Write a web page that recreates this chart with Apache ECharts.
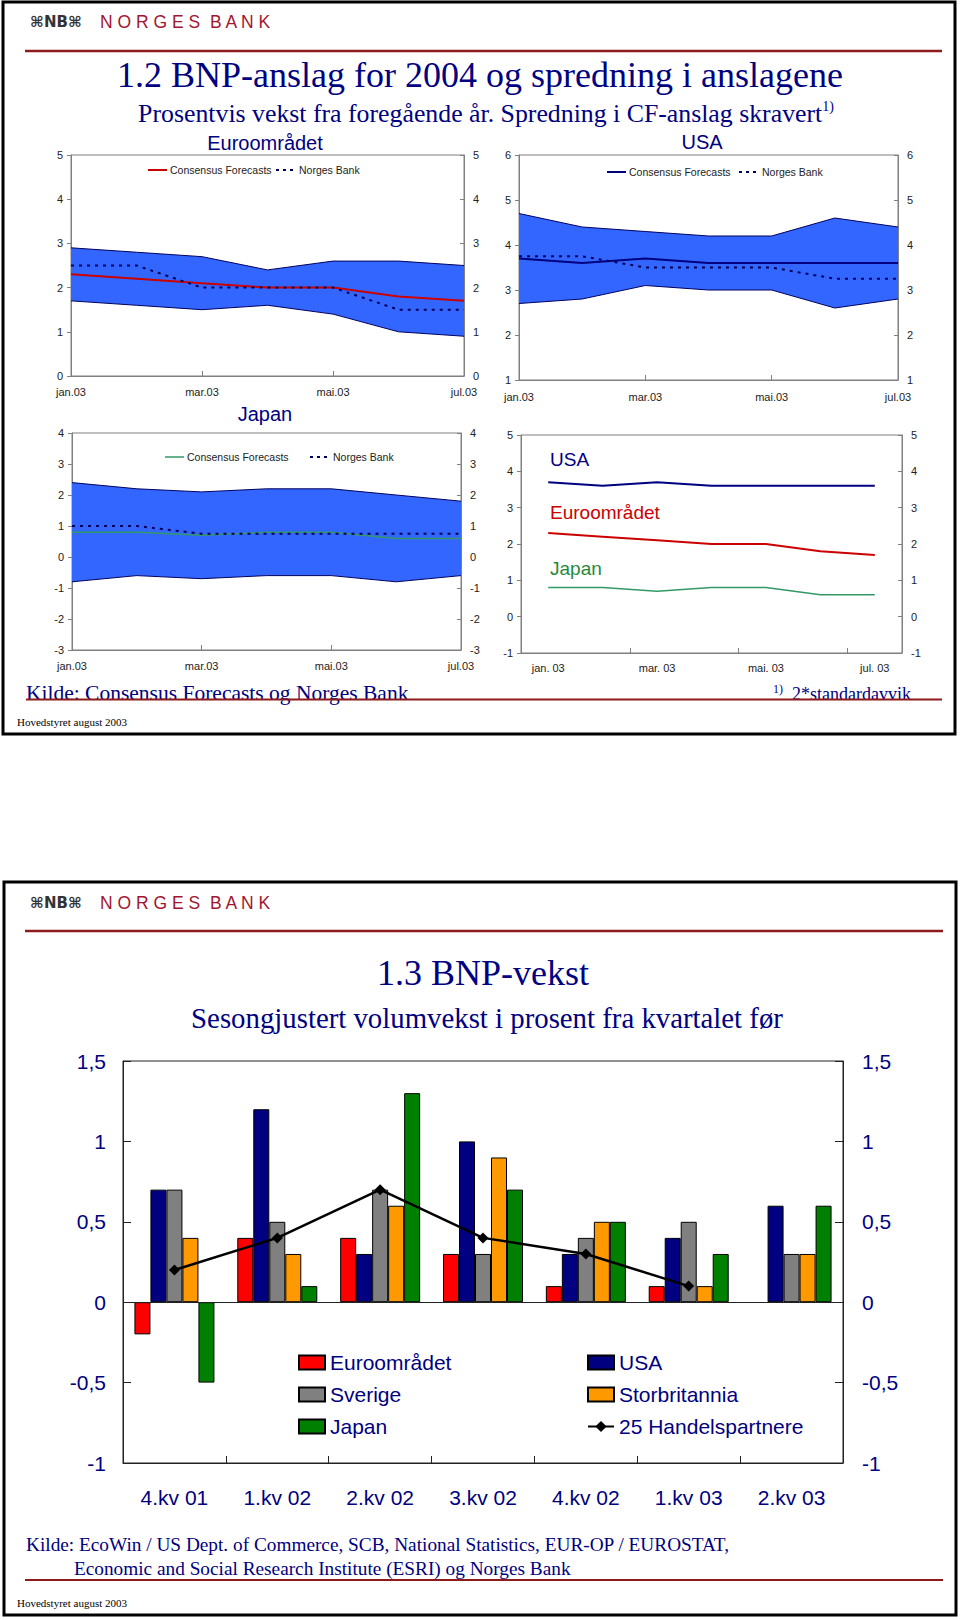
<!DOCTYPE html>
<html><head><meta charset="utf-8">
<script src="https://cdn.jsdelivr.net/npm/echarts@6/dist/echarts.min.js"></script>
<style>html,body{margin:0;padding:0;background:#fff}#c{width:960px;height:1620px}</style>
</head><body><div id="c"></div>
<script>
// ---------- data ----------
const months = ['jan.03','feb.03','mar.03','apr.03','mai.03','jun.03','jul.03'];
const monthsSpaced = ['jan. 03','feb. 03','mar. 03','apr. 03','mai. 03','jun. 03','jul. 03'];

// Euroområdet
const euroCF   = [2.3, 2.2, 2.1, 2.0, 2.0, 1.8, 1.7];
const euroNB   = [2.5, 2.5, 2.0, 2.0, 2.0, 1.5, 1.5];
const euroHigh = [2.9, 2.8, 2.7, 2.4, 2.6, 2.6, 2.5];
const euroLow  = [1.7, 1.6, 1.5, 1.6, 1.4, 1.0, 0.9];
// USA
const usaCF   = [3.7, 3.6, 3.7, 3.6, 3.6, 3.6, 3.6];
const usaNB   = [3.75, 3.75, 3.5, 3.5, 3.5, 3.25, 3.25];
const usaHigh = [4.7, 4.4, 4.3, 4.2, 4.2, 4.6, 4.4];
const usaLow  = [2.7, 2.8, 3.1, 3.0, 3.0, 2.6, 2.8];
// Japan
const japanCF   = [0.8, 0.8, 0.7, 0.8, 0.8, 0.6, 0.6];
const japanNB   = [1.0, 1.0, 0.75, 0.75, 0.75, 0.75, 0.75];
const japanHigh = [2.4, 2.2, 2.1, 2.2, 2.2, 2.0, 1.8];
const japanLow  = [-0.8, -0.6, -0.7, -0.6, -0.6, -0.8, -0.6];

// BNP-vekst
const quarters   = ['4.kv 01','1.kv 02','2.kv 02','3.kv 02','4.kv 02','1.kv 03','2.kv 03'];
const barEuro    = [-0.2, 0.4, 0.4, 0.3, 0.1, 0.1, null];
const barUSA     = [0.7, 1.2, 0.3, 1.0, 0.3, 0.4, 0.6];
const barSverige = [0.7, 0.5, 0.7, 0.3, 0.4, 0.5, 0.3];
const barUK      = [0.4, 0.3, 0.6, 0.9, 0.5, 0.1, 0.3];
const barJapan   = [-0.5, 0.1, 1.3, 0.7, 0.5, 0.3, 0.6];
const partners25 = [0.2, 0.4, 0.7, 0.4, 0.3, 0.1, null];

// ---------- styling ----------
const SANS = '"Liberation Sans", Arial, sans-serif';
const SERIF = '"Liberation Serif", "Times New Roman", serif';
const NAVY = '#000080';
const DARKRED = '#8E1B1B';
const GRAYAX = '#808080';
const BAND = '#3366FF';
const BANDEDGE = '#000060';
const NBDOT = '#00005a';
const RED = '#CC0000';
const GREEN = '#339966';

function spread(hi, lo) { return hi.map((h, i) => Math.round((h - lo[i]) * 100) / 100); }

const LBL = {fontSize: 11, color: '#222', fontFamily: SANS};
function catAxis(gi, cats, gap, margin) {
  return {gridIndex: gi, type: 'category', data: cats, boundaryGap: gap,
    axisLine: {show: true, onZero: false, lineStyle: {color: GRAYAX}},
    axisTick: {show: true, inside: true, length: 5, interval: 1, lineStyle: {color: GRAYAX}},
    axisLabel: Object.assign({interval: 1, margin: margin}, LBL),
    splitLine: {show: false}};
}
function valAxis(gi, min, max, pos, margin, inside) {
  return {gridIndex: gi, type: 'value', min: min, max: max, interval: 1, position: pos,
    axisLine: {show: true, onZero: false, lineStyle: {color: GRAYAX}},
    axisTick: {show: true, inside: inside, length: 4, lineStyle: {color: GRAYAX}},
    axisLabel: Object.assign({margin: margin}, LBL),
    splitLine: {show: false}};
}
function band(xi, yi, lo, hi, key) {
  return [
    {type: 'line', name: key + ' lav', xAxisIndex: xi, yAxisIndex: yi, data: lo, stack: key, stackStrategy: 'all',
     symbol: 'none', silent: true, lineStyle: {color: BANDEDGE, width: 1}, z: 2},
    {type: 'line', name: key + ' høy', xAxisIndex: xi, yAxisIndex: yi, data: spread(hi, lo), stack: key, stackStrategy: 'all',
     symbol: 'none', silent: true, lineStyle: {color: BANDEDGE, width: 1}, areaStyle: {color: BAND, opacity: 1}, z: 2}
  ];
}
function line(name, xi, yi, data, color, width, dash) {
  return {type: 'line', name: name, xAxisIndex: xi, yAxisIndex: yi, data: data, symbol: 'none', silent: true,
    lineStyle: {color: color, width: width, type: dash || 'solid'}, z: 3};
}
function bar(name, data, color) {
  return {type: 'bar', name: name, xAxisIndex: 4, yAxisIndex: 8, data: data, barWidth: 16, barGap: '0%',
    itemStyle: {color: color, borderColor: '#000', borderWidth: 1}};
}

// ---------- graphics (frames, titles, texts) ----------
function txt(x, y, text, font, fill, align) {
  return {type: 'text', x: x, y: y, silent: true, z: 50,
    style: {text: text, font: font, fill: fill, align: align || 'left', verticalAlign: 'middle',
            textAlign: align || 'left', textVerticalAlign: 'middle'}};
}
function ln(x1, y1, x2, y2, stroke, w, dash) {
  return {type: 'line', silent: true, z: 51, shape: {x1: x1, y1: y1, x2: x2, y2: y2},
    style: {stroke: stroke, lineWidth: w, lineDash: dash || null}};
}
function frame(x, y, w, h) {
  return {type: 'rect', silent: true, z: 49, shape: {x: x, y: y, width: w, height: h},
    style: {fill: 'none', stroke: '#000', lineWidth: 3}};
}
function logo(y) {
  return [txt(30, y, '⌘NB⌘', 'bold 15px "DejaVu Sans"', '#333'),
          txt(100, y, 'N O R G E S  B A N K', '17.5px ' + SANS, '#A3162F')];
}
function miniLegend(x, y, color, w, gap2, lineW) {
  const xs = x;
  return [
    ln(xs, y, xs + 19, y, color, lineW),
    txt(xs + 22, y, 'Consensus Forecasts', '10.5px ' + SANS, '#222'),
    ln(xs + 128 + gap2, y, xs + 147 + gap2, y, NBDOT, 2, [3, 4]),
    txt(xs + 151 + gap2, y, 'Norges Bank', '10.5px ' + SANS, '#222')
  ];
}

const graphics = [
  frame(3, 2, 952, 732),
  ...logo(22),
  ln(25, 51, 942, 51, DARKRED, 2.5),
  txt(480, 75, '1.2 BNP-anslag for 2004 og spredning i anslagene', '36px ' + SERIF, NAVY, 'center'),
  {type: 'text', x: 486, y: 113, silent: true, z: 50,
   style: {text: '{a|Prosentvis vekst fra foregående år. Spredning i CF-anslag skravert}{s|1)}',
     align: 'center', verticalAlign: 'middle', textAlign: 'center', textVerticalAlign: 'middle',
     rich: {a: {fontSize: 25.8, fontFamily: SERIF, fill: NAVY, color: NAVY, lineHeight: 28, verticalAlign: 'middle'},
            s: {fontSize: 14, fontFamily: SERIF, fill: NAVY, color: NAVY, lineHeight: 16, verticalAlign: 'top'}}}},
  txt(265, 143, 'Euroområdet', '20px ' + SANS, NAVY, 'center'),
  txt(702, 142, 'USA', '20px ' + SANS, NAVY, 'center'),
  txt(265, 413.5, 'Japan', '20px ' + SANS, NAVY, 'center'),
  ...miniLegend(148, 170, RED, 19, 0, 2),
  ...miniLegend(607, 172, NAVY, 19, 4, 2),
  ...miniLegend(165, 457, GREEN, 19, 17, 1.5),
  txt(550, 459, 'USA', '19px ' + SANS, NAVY),
  txt(550, 512.5, 'Euroområdet', '19px ' + SANS, RED),
  txt(550, 568, 'Japan', '19px ' + SANS, '#1F8A3A'),
  txt(26, 693, 'Kilde: Consensus Forecasts og Norges Bank', '21.5px ' + SERIF, NAVY),
  txt(773, 689, '1)', '12px ' + SERIF, NAVY),
  txt(792, 694, '2*standardavvik', '18px ' + SERIF, NAVY),
  ln(26, 699.5, 942, 699.5, DARKRED, 2),
  txt(17, 722, 'Hovedstyret august 2003', '11px ' + SERIF, '#000'),

  frame(4, 882, 952, 733),
  ...logo(903),
  ln(25, 931, 943, 931, DARKRED, 2.5),
  txt(483, 973, '1.3 BNP-vekst', '36px ' + SERIF, NAVY, 'center'),
  txt(487, 1018, 'Sesongjustert volumvekst i prosent fra kvartalet før', '28.8px ' + SERIF, NAVY, 'center'),
  txt(26, 1544, 'Kilde: EcoWin / US Dept. of Commerce, SCB, National Statistics, EUR-OP / EUROSTAT,', '19.3px ' + SERIF, NAVY),
  txt(74, 1568, 'Economic and Social Research Institute (ESRI) og Norges Bank', '19.3px ' + SERIF, NAVY),
  ln(25, 1580, 943, 1580, DARKRED, 2),
  txt(17, 1603, 'Hovedstyret august 2003', '11px ' + SERIF, '#000')
];

const barLbl = {fontSize: 21, color: NAVY, fontFamily: SANS};
const fmtComma = v => String(v).replace('.', ',');

const option = {
  animation: false,
  backgroundColor: '#fff',
  textStyle: {fontFamily: SANS},
  grid: [
    {left: 71, top: 155, width: 393, height: 221, show: true, borderColor: GRAYAX, borderWidth: 1},
    {left: 519, top: 155, width: 379, height: 225, show: true, borderColor: GRAYAX, borderWidth: 1},
    {left: 72, top: 433, width: 389, height: 217, show: true, borderColor: GRAYAX, borderWidth: 1},
    {left: 521, top: 435, width: 381, height: 218, show: true, borderColor: GRAYAX, borderWidth: 1},
    {left: 123, top: 1061, width: 720, height: 402, show: true, borderColor: '#222', borderWidth: 1}
  ],
  xAxis: [
    catAxis(0, months, false, 10),
    catAxis(1, months, false, 11),
    catAxis(2, months, false, 10),
    catAxis(3, monthsSpaced, true, 9),
    {gridIndex: 4, type: 'category', data: quarters,
     axisLine: {show: true, onZero: false, lineStyle: {color: '#222'}},
     axisTick: {show: true, inside: true, length: 7, lineStyle: {color: '#222'}},
     axisLabel: Object.assign({margin: 24, interval: 0}, barLbl), splitLine: {show: false}}
  ],
  yAxis: [
    valAxis(0, 0, 5, 'left', 8, false), valAxis(0, 0, 5, 'right', 9, true),
    valAxis(1, 1, 6, 'left', 8, false), valAxis(1, 1, 6, 'right', 9, true),
    valAxis(2, -3, 4, 'left', 8, false), valAxis(2, -3, 4, 'right', 9, true),
    valAxis(3, -1, 5, 'left', 8, false), valAxis(3, -1, 5, 'right', 9, true),
    {gridIndex: 4, type: 'value', min: -1, max: 1.5, interval: 0.5, position: 'left',
     axisLine: {show: true, lineStyle: {color: '#222'}}, axisTick: {show: true, inside: true, length: 8, lineStyle: {color: '#222'}},
     axisLabel: Object.assign({margin: 17, formatter: fmtComma}, barLbl), splitLine: {show: false}},
    {gridIndex: 4, type: 'value', min: -1, max: 1.5, interval: 0.5, position: 'right',
     axisLine: {show: true, lineStyle: {color: '#222'}}, axisTick: {show: true, inside: true, length: 8, lineStyle: {color: '#222'}},
     axisLabel: Object.assign({margin: 19, formatter: fmtComma}, barLbl), splitLine: {show: false}}
  ],
  legend: [
    {left: 298, top: 1352, padding: 0, orient: 'vertical', itemWidth: 26, itemHeight: 14, itemGap: 11, selectedMode: false,
     textStyle: {fontSize: 21, color: NAVY, fontFamily: SANS, lineHeight: 21},
     data: [{name: 'Euroområdet', icon: 'rect'}, {name: 'Sverige', icon: 'rect'}, {name: 'Japan', icon: 'rect'}]},
    {left: 587, top: 1352, padding: 0, orient: 'vertical', itemWidth: 26, itemHeight: 14, itemGap: 11, selectedMode: false,
     textStyle: {fontSize: 21, color: NAVY, fontFamily: SANS, lineHeight: 21},
     data: [{name: 'USA', icon: 'rect'}, {name: 'Storbritannia', icon: 'rect'}, {name: '25 Handelspartnere'}]}
  ],
  graphic: {elements: graphics},
  series: [
    ...band(0, 0, euroLow, euroHigh, 'euro'),
    line('Euro CF', 0, 0, euroCF, RED, 2),
    line('Euro NB', 0, 0, euroNB, NBDOT, 2, [3, 5]),
    ...band(1, 2, usaLow, usaHigh, 'usa'),
    line('USA CF', 1, 2, usaCF, NAVY, 2),
    line('USA NB', 1, 2, usaNB, NBDOT, 2, [3, 5]),
    ...band(2, 4, japanLow, japanHigh, 'japan'),
    line('Japan CF', 2, 4, japanCF, GREEN, 1.5),
    line('Japan NB', 2, 4, japanNB, NBDOT, 2, [3, 5]),
    line('USA (CF)', 3, 6, usaCF, NAVY, 2),
    line('Euroområdet (CF)', 3, 6, euroCF, RED, 2),
    line('Japan (CF)', 3, 6, japanCF, GREEN, 1.5),
    Object.assign(bar('Euroområdet', barEuro, '#FF0000'), {
      markLine: {silent: true, symbol: 'none', label: {show: false},
                 lineStyle: {color: '#222', width: 1, type: 'solid'}, data: [{yAxis: 0}]}}),
    bar('USA', barUSA, '#000080'),
    bar('Sverige', barSverige, '#808080'),
    bar('Storbritannia', barUK, '#FF9900'),
    bar('Japan', barJapan, '#008000'),
    {type: 'line', name: '25 Handelspartnere', xAxisIndex: 4, yAxisIndex: 8, data: partners25,
     symbol: 'diamond', symbolSize: 11, itemStyle: {color: '#000'}, lineStyle: {color: '#000', width: 2.5}, z: 5}
  ]
};

const chart = echarts.init(document.getElementById('c'), null, {renderer: 'svg', width: 960, height: 1620});
chart.setOption(option);
</script>
</body></html>
